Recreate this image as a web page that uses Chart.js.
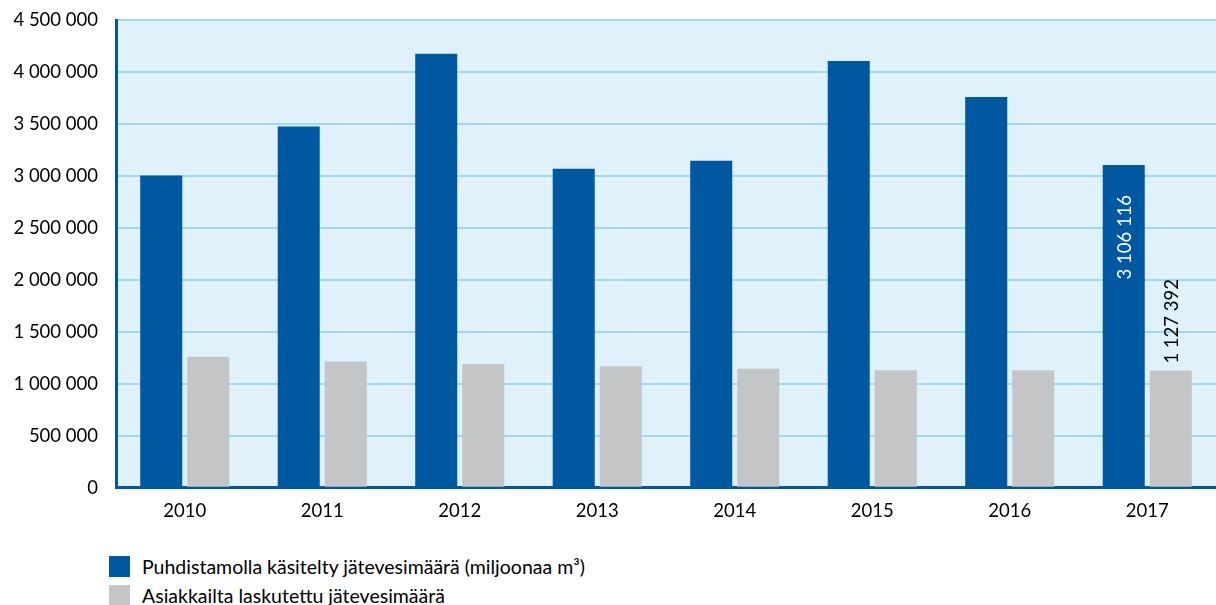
<!DOCTYPE html>
<html>
<head>
<meta charset="utf-8">
<script src="https://cdn.jsdelivr.net/npm/chart.js@4.4.0/dist/chart.umd.min.js"></script>
<style>
  html, body { margin: 0; padding: 0; background: #ffffff; overflow: hidden; width: 1216px; height: 605px; }
  #wrap { position: relative; width: 1216px; height: 605px; }
  canvas { position: absolute; left: 0; top: 0; }
  .leg { position: absolute; left: 109px; font-family: Lato, "Noto Sans", sans-serif; font-size: 19.5px; color: #000000; display: flex; align-items: center; white-space: nowrap; height: 21px; }
  .leg .sw { width: 21px; height: 21px; margin-right: 12px; flex: none; }
</style>
</head>
<body>
<div id="wrap">
  <canvas id="c" width="1216" height="540"></canvas>
  <div id="legend"></div>
</div>
<script>
const categories = ['2010', '2011', '2012', '2013', '2014', '2015', '2016', '2017'];
const seriesNames = ['Puhdistamolla käsitelty jätevesimäärä (miljoonaa m³)', 'Asiakkailta laskutettu jätevesimäärä'];
const treatedValues = [3005000, 3475000, 4175000, 3070000, 3145000, 4105000, 3760000, 3106116];
const billedValues = [1260000, 1215000, 1190000, 1170000, 1145000, 1130000, 1130000, 1127392];
const labelledCategories = ['2017'];
const yTicks = [0, 500000, 1000000, 1500000, 2000000, 2500000, 3000000, 3500000, 4000000, 4500000];

const seriesColors = ['#0059a0', '#c4c5c7'];
const FONT = 'Lato, "Noto Sans", sans-serif';

function fmt(v) {
  return String(Math.round(v)).replace(/\B(?=(\d{3})+(?!\d))/g, ' ');
}

const bgPlugin = {
  id: 'plotBg',
  beforeDraw(chart) {
    const a = chart.chartArea, ctx = chart.ctx;
    ctx.save();
    ctx.fillStyle = '#dff1fb';
    ctx.fillRect(a.left, a.top, a.right - a.left, a.bottom - a.top);
    ctx.restore();
  }
};

const valueLabelPlugin = {
  id: 'valueLabels',
  afterDatasetsDraw(chart) {
    const ctx = chart.ctx;
    ctx.save();
    ctx.font = '18.5px ' + FONT;
    ctx.textBaseline = 'middle';
    labelledCategories.forEach(cat => {
      const i = categories.indexOf(cat);
      if (i < 0) return;
      const b0 = chart.getDatasetMeta(0).data[i];
      ctx.save();
      ctx.translate(b0.x + 1, b0.y + 30);
      ctx.rotate(-Math.PI / 2);
      ctx.textAlign = 'right';
      ctx.fillStyle = '#ffffff';
      ctx.fillText(fmt(chart.data.datasets[0].data[i]), 0, 0);
      ctx.restore();
      const b1 = chart.getDatasetMeta(1).data[i];
      ctx.save();
      ctx.translate(b1.x + 1, b1.y - 7);
      ctx.rotate(-Math.PI / 2);
      ctx.textAlign = 'left';
      ctx.fillStyle = '#000000';
      ctx.fillText(fmt(chart.data.datasets[1].data[i]), 0, 0);
      ctx.restore();
    });
    ctx.restore();
  }
};

const chart = new Chart(document.getElementById('c'), {
  type: 'bar',
  data: {
    labels: categories,
    datasets: [
      { label: seriesNames[0], data: treatedValues, backgroundColor: seriesColors[0], borderWidth: 0, categoryPercentage: 0.684, barPercentage: 0.894 },
      { label: seriesNames[1], data: billedValues, backgroundColor: seriesColors[1], borderWidth: 0, categoryPercentage: 0.684, barPercentage: 0.894 }
    ]
  },
  options: {
    responsive: false,
    animation: false,
    layout: { padding: { top: 0, right: 0, bottom: 6, left: 0 } },
    plugins: { legend: { display: false }, tooltip: { enabled: false } },
    scales: {
      x: {
        grid: { display: false, drawTicks: false },
        border: { color: '#0059a0', width: 3 },
        ticks: { font: { family: FONT, size: 18.5 }, color: '#000000', padding: 12 }
      },
      y: {
        min: 0,
        max: 4500000,
        afterBuildTicks(scale) { scale.ticks = yTicks.map(v => ({ value: v })); },
        afterFit(scale) { scale.width = 116; scale.paddingTop = 20; scale.paddingBottom = 0; },
        grid: { color: '#9fd8f2', lineWidth: 2, drawTicks: false },
        border: { color: '#0059a0', width: 3 },
        ticks: { font: { family: FONT, size: 18.5 }, color: '#000000', padding: 18, callback: v => fmt(v) }
      }
    }
  },
  plugins: [bgPlugin, valueLabelPlugin]
});

const legend = document.getElementById('legend');
chart.data.datasets.forEach((ds, i) => {
  const row = document.createElement('div');
  row.className = 'leg';
  row.style.top = (556 + i * 29) + 'px';
  const sw = document.createElement('span');
  sw.className = 'sw';
  sw.style.background = ds.backgroundColor;
  const tx = document.createElement('span');
  tx.textContent = ds.label;
  row.appendChild(sw);
  row.appendChild(tx);
  legend.appendChild(row);
});
</script>
</body>
</html>
